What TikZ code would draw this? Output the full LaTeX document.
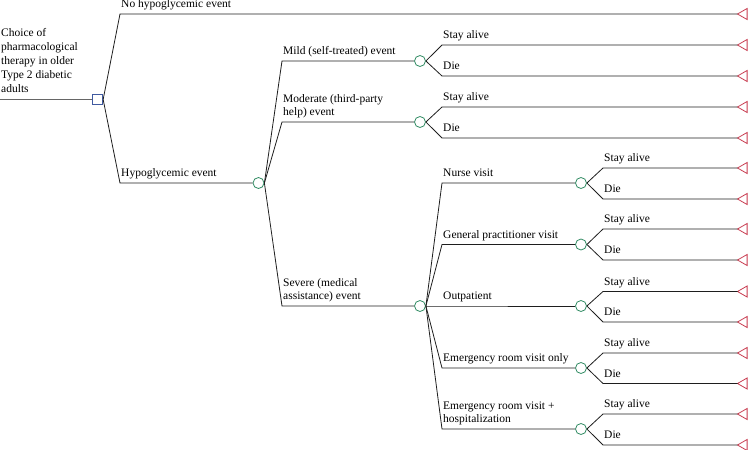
\documentclass[tikz,border=0pt]{standalone}
\usepackage{fontspec}
\setmainfont{Liberation Serif}
\definecolor{decblue}{RGB}{64,90,160}
\definecolor{chgreen}{RGB}{50,140,100}
\definecolor{termred}{RGB}{200,60,80}
\definecolor{edgec}{RGB}{30,30,30}
\begin{document}
\begin{tikzpicture}[x=1pt,y=-1pt,
  font=\fontsize{11.5}{13.5}\selectfont,
  edge/.style={draw=edgec, line width=0.8pt},
  dec/.style={rectangle, draw=decblue, fill=white, minimum size=10.5pt, inner sep=0pt, line width=0.8pt},
  chance/.style={circle, draw=chgreen, fill=white, minimum size=11pt, inner sep=0pt, line width=0.8pt},
  term/.style={coordinate},
  tri/.style={draw=termred, line width=0.8pt, line join=miter},
  lbl/.style={anchor=south west, inner sep=0pt, align=left, text depth=3pt, xshift=1pt, yshift=3pt}
]
\useasboundingbox (0,0) rectangle (748,450);

% root
\coordinate (r0) at (0,99.5);
\node[dec] (D) at (97.5,99.5) {};
\draw[draw=black!60, line width=0.8pt] (r0) -- (D.west);
\node[anchor=north west, inner sep=0pt, align=left, font=\fontsize{11.5}{14}\selectfont] (root) at (1,28.5)
  {Choice of\\pharmacological\\therapy in older\\Type 2 diabetic\\adults};

% level 1
\coordinate (eA) at (120,14);
\coordinate (eB) at (120,183);
\node[term] (TA) at (737.5,14) {};
\draw[tri] (TA) -- ++(9.6,-5.5) -- ++(0,11) -- cycle;
\node[chance] (C1) at (258.5,183) {};
\draw[edge] (D.east) -- (eA) -- (TA);
\draw[edge] (D.east) -- (eB) -- (C1.west);
\node[lbl] (lA) at (eA) {No hypoglycemic event};
\node[lbl] (lB) at (eB) {Hypoglycemic event};

% level 2
\coordinate (e2) at (282,61);
\coordinate (e3) at (282,122);
\coordinate (e4) at (282,306);
\node[chance] (C2) at (420,61) {};
\node[chance] (C3) at (420,122) {};
\node[chance] (C4) at (420,306) {};
\draw[edge] (C1.east) -- (e2) -- (C2.west);
\draw[edge] (C1.east) -- (e3) -- (C3.west);
\draw[edge] (C1.east) -- (e4) -- (C4.west);
\node[lbl] (l2) at (e2) {Mild (self-treated) event};
\node[lbl] (l3) at (e3) {Moderate (third-party\\help) event};
\node[lbl] (l4) at (e4) {Severe (medical\\assistance) event};

% level 3 (severe)
\coordinate (e5) at (442,183);
\coordinate (e6) at (442,244.5);
\coordinate (e7) at (442,306);
\coordinate (e8) at (442,368);
\coordinate (e9) at (442,429);
\node[chance] (C5) at (581,183) {};
\node[chance] (C6) at (581,244.5) {};
\node[chance] (C7) at (581,306) {};
\node[chance] (C8) at (581,368) {};
\node[chance] (C9) at (581,429) {};
\foreach \i in {5,...,9} {
  \draw[edge] (C4.east) -- (e\i) -- (C\i.west);
}
\node[lbl] (l5) at (e5) {Nurse visit};
\node[lbl] (l6) at (e6) {General practitioner visit};
\node[lbl] (l7) at (e7) {Outpatient};
\node[lbl] (l8) at (e8) {Emergency room visit only};
\node[lbl] (l9) at (e9) {Emergency room visit +\\hospitalization};

% outcomes
\foreach \c/\ex/\ys/\yd in {C2/442/45/76, C3/442/107/138, C5/603/168/199, C6/603/229/260, C7/603/291.5/322, C8/603/353/383.5, C9/603/414/445} {
  \coordinate (s\c) at (\ex,\ys);
  \coordinate (d\c) at (\ex,\yd);
  \node[term] (ts\c) at (737.5,\ys) {};
  \node[term] (td\c) at (737.5,\yd) {};
  \draw[tri] (ts\c) -- ++(9.6,-5.5) -- ++(0,11) -- cycle;
  \draw[tri] (td\c) -- ++(9.6,-5.5) -- ++(0,11) -- cycle;
  \draw[edge] (\c.east) -- (s\c) -- (ts\c);
  \draw[edge] (\c.east) -- (d\c) -- (td\c);
  \node[lbl] (ls\c) at (s\c) {Stay alive};
  \node[lbl] (ld\c) at (d\c) {Die};
}
\end{tikzpicture}
\end{document}
